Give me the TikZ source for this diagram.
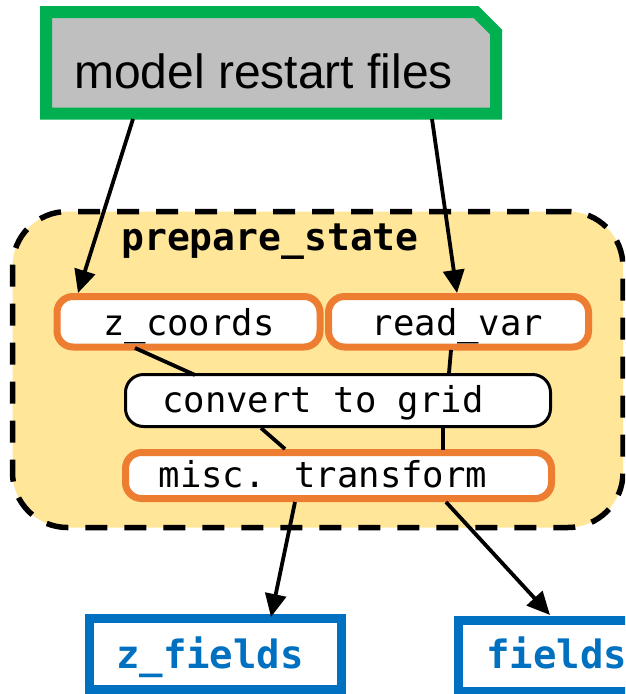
\documentclass[tikz,border=0pt]{standalone}
\usepackage{fontspec}
\setmainfont{Liberation Sans}
\newfontfamily\codefont{DejaVu Sans Mono}
\usetikzlibrary{arrows.meta,calc,backgrounds}

\definecolor{srcgreen}{HTML}{00B050}
\definecolor{srcgray}{HTML}{BFBFBF}
\definecolor{stageyellow}{HTML}{FFE699}
\definecolor{fnorange}{HTML}{ED7D31}
\definecolor{outblue}{HTML}{0070C0}

\begin{document}
\begin{tikzpicture}[x=1pt,y=-1pt,
  link/.style={line width=3.8pt, black},
  arr/.style={link, -{Triangle[length=23pt,width=21pt]}},
  srcbox/.style={rectangle, draw=none, outer sep=0pt, inner sep=0pt,
    minimum width=450pt, minimum height=101.5pt},
  stagebox/.style={rectangle, rounded corners=55pt, draw=black, dash pattern=on 22pt off 17pt,
    line width=5.5pt, fill=stageyellow, outer sep=0pt, inner sep=0pt},
  fnbox/.style={rectangle, rounded corners=16pt, draw=fnorange, line width=7pt,
    fill=white, outer sep=0pt, inner sep=0pt},
  plainbox/.style={rectangle, rounded corners=18pt, draw=black, line width=3pt,
    fill=white, outer sep=0pt, inner sep=0pt},
  outbox/.style={rectangle, draw=outblue, line width=9pt, fill=white,
    outer sep=0pt, inner sep=0pt},
  codetext/.style={inner sep=0pt, anchor=base, font=\fontsize{35.6}{42}\selectfont\codefont},
  boldcode/.style={inner sep=0pt, anchor=base, font=\fontsize{38}{46}\selectfont\codefont\bfseries},
]
\useasboundingbox (0,0) rectangle (625,694);
\clip (0,0) rectangle (625,694);

% input files
\node[srcbox] (src) at (271,62.75) {};
\begin{scope}[on background layer]
  \filldraw[fill=srcgray, draw=srcgreen, line width=12pt]
    (src.south west) -- (src.north west) -- ($(src.north east)+(-20,0)$)
    -- ($(src.north east)+(0,20)$) -- (src.south east) -- cycle;
\end{scope}
\node[inner sep=0pt, anchor=base, font=\fontsize{48}{56}\selectfont] (srctext) at (263.5,88) {model restart files};

% stage container
\node[stagebox, minimum width=610.5pt, minimum height=316pt] (stage) at (317.75,369.5) {};
\node[boldcode] (stagetitle) at (270,250) {prepare\_state};

% functions inside the stage
\node[fnbox, minimum width=263pt, minimum height=50.5pt] (zc) at (188.5,321.75) {};
\node[codetext] (zctext) at (189,335) {z\_coords};
\node[fnbox, minimum width=260pt, minimum height=50.5pt] (rv) at (458.5,321.75) {};
\node[codetext] (rvtext) at (457.5,335) {read\_var};
\node[plainbox, minimum width=425pt, minimum height=52pt] (cv) at (338,400.5) {};
\node[codetext] (cvtext) at (323,412) {convert to grid};
\node[fnbox, minimum width=426pt, minimum height=46pt] (mt) at (338.5,475.5) {};
\node[codetext] (mttext) at (323,487) {misc. transform};

% outputs
\node[outbox, minimum width=252pt, minimum height=71pt] (zf) at (215.5,653.5) {};
\node[boldcode, text=outblue, font=\fontsize{39}{46}\selectfont\codefont\bfseries] (zftext) at (210,668) {z\_fields};
\node[outbox, minimum width=250pt, minimum height=71pt] (fd) at (583.5,656) {};
\node[boldcode, text=outblue, anchor=base west, font=\fontsize{39}{46}\selectfont\codefont\bfseries] (fdtext) at (486,668) {fields\_};

% connectors
\draw[arr] ($(src.south west)+(87,5.5)$) -- ($(zc.north west)+(21,-3.5)$);
\draw[arr] ($(src.south west)+(386,5.5)$) -- ($(rv.north west)+(128.5,-3.5)$);
\draw[link] ($(zc.south west)+(78,1)$) -- ($(cv.north west)+(69.5,0.5)$);
\draw[link] ($(rv.south west)+(122.5,3)$) -- ($(cv.north west)+(323.5,-1.5)$);
\draw[link] ($(cv.south west)+(135.5,1.5)$) -- ($(mt.north west)+(159.5,-3.5)$);
\draw[link] ($(cv.south west)+(317.5,1.5)$) -- ($(mt.north west)+(317.5,-2.5)$);
\draw[arr] ($(mt.south west)+(169.5,3.5)$) -- ($(zf.north west)+(181.5,-1)$);
\draw[arr] ($(mt.south west)+(320.5,3.5)$) -- ($(fd.north west)+(91.5,-5.5)$);
\end{tikzpicture}
\end{document}
